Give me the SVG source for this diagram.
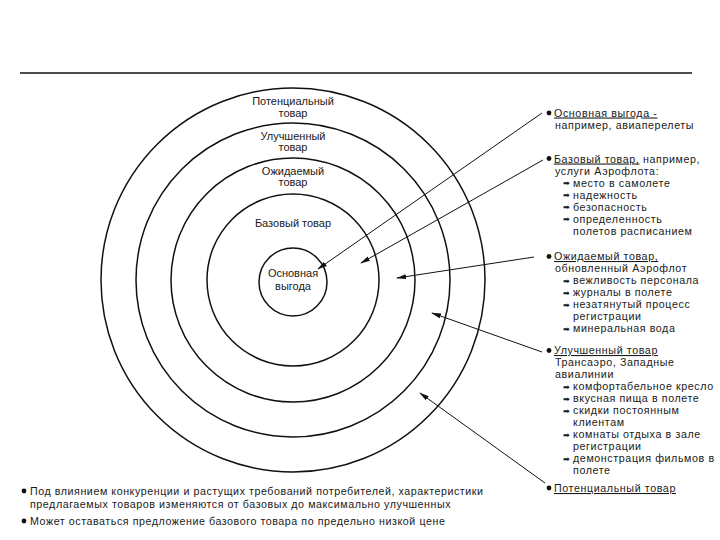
<svg xmlns="http://www.w3.org/2000/svg" width="720" height="540" viewBox="0 0 720 540">
<style>
text{font-family:"Liberation Sans",Arial,sans-serif;font-size:11px;fill:#1a1a1a}
.n{font-size:10.7px;letter-spacing:0.6px}
.b{font-size:10.7px;letter-spacing:0.55px}
.c{text-anchor:middle}
.ring{fill:none;stroke:#111;stroke-width:1.5}
.con{stroke:#111;stroke-width:1;fill:none;marker-end:url(#ah)}
.u{text-decoration:underline}
.ar{font-family:"DejaVu Sans",sans-serif;font-size:8px}
</style>
<defs>
<marker id="ah" viewBox="0 0 10 6" refX="9" refY="3" markerWidth="10" markerHeight="6" markerUnits="userSpaceOnUse" orient="auto">
<path d="M0,0.5 L10,3 L0,5.5 Z" fill="#111"/>
</marker>
</defs>
<rect width="720" height="540" fill="#fff"/>
<line x1="20" y1="73" x2="692" y2="73" stroke="#111" stroke-width="1.5"/>
<g id="ring-potential"><circle class="ring" cx="293" cy="280" r="192"/><text class="c" x="293" y="104.5">Потенциальный</text><text class="c" x="293" y="116.5">товар</text></g>
<g id="ring-improved"><circle class="ring" cx="293" cy="280" r="157"/><text class="c" x="293" y="140">Улучшенный</text><text class="c" x="293" y="151">товар</text></g>
<g id="ring-expected"><circle class="ring" cx="293" cy="280" r="122"/><text class="c" x="293" y="174.5">Ожидаемый</text><text class="c" x="293" y="186">товар</text></g>
<g id="ring-basic"><circle class="ring" cx="293" cy="280" r="86"/><text class="c" x="293" y="227">Базовый товар</text></g>
<g id="ring-core"><circle class="ring" cx="293" cy="282" r="34"/><text class="c" x="293" y="277">Основная</text><text class="c" x="293" y="289.5">выгода</text></g>
<g id="connectors">
<line class="con" x1="542" y1="113" x2="318" y2="269"/>
<line class="con" x1="543" y1="160" x2="361" y2="263"/>
<line class="con" x1="534" y1="257" x2="397" y2="278"/>
<line class="con" x1="542" y1="352" x2="432" y2="313"/>
<line class="con" x1="545" y1="483" x2="420" y2="393"/>
</g>
<g id="note-core"><circle cx="549" cy="113" r="2.4" fill="#111"/><text class="n" x="554" y="116.5"><tspan class="u">Основная выгода -</tspan></text><text class="n" x="555" y="128.5">например, авиаперелеты</text></g>
<g id="note-basic"><circle cx="549" cy="158.5" r="2.4" fill="#111"/><text class="n" x="554" y="162.5"><tspan class="u">Базовый товар,</tspan> например,</text><text class="n" x="555" y="174.5">услуги Аэрофлота:</text>
<text class="ar" x="563" y="186">➡</text><text class="n" x="573" y="186.5">место в самолете</text>
<text class="ar" x="563" y="198">➡</text><text class="n" x="573" y="198.5">надежность</text>
<text class="ar" x="563" y="210">➡</text><text class="n" x="573" y="210.5">безопасность</text>
<text class="ar" x="563" y="222">➡</text><text class="n" x="573" y="222.5">определенность</text>
<text class="n" x="573" y="234.5">полетов расписанием</text></g>
<g id="note-expected"><circle cx="549" cy="256.5" r="2.4" fill="#111"/><text class="n" x="554" y="260">
<tspan class="u">Ожидаемый товар,</tspan></text><text class="n" x="555" y="272">обновленный Аэрофлот</text>
<text class="ar" x="563" y="283.5">➡</text><text class="n" x="573" y="284">вежливость персонала</text>
<text class="ar" x="563" y="295.5">➡</text><text class="n" x="573" y="296">журналы в полете</text>
<text class="ar" x="563" y="307.5">➡</text><text class="n" x="573" y="308">незатянутый процесс</text>
<text class="n" x="573" y="320">регистрации</text>
<text class="ar" x="563" y="331.5">➡</text><text class="n" x="573" y="332">минеральная вода</text></g>
<g id="note-improved"><circle cx="549" cy="350.5" r="2.4" fill="#111"/><text class="n" x="554" y="354"><tspan class="u">Улучшенный товар</tspan></text><text class="n" x="555" y="366">Трансаэро, Западные</text><text class="n" x="555" y="378">авиалинии</text>
<text class="ar" x="563" y="389.5">➡</text><text class="n" x="573" y="390">комфортабельное кресло</text>
<text class="ar" x="563" y="401.5">➡</text><text class="n" x="573" y="402">вкусная пища в полете</text>
<text class="ar" x="563" y="413.5">➡</text><text class="n" x="573" y="414">скидки постоянным</text>
<text class="n" x="573" y="426">клиентам</text>
<text class="ar" x="563" y="437.5">➡</text><text class="n" x="573" y="438">комнаты отдыха в зале</text>
<text class="n" x="573" y="450">регистрации</text>
<text class="ar" x="563" y="461.5">➡</text><text class="n" x="573" y="462">демонстрация фильмов в</text>
<text class="n" x="573" y="474">полете</text></g>
<g id="note-potential"><circle cx="549" cy="488" r="2.4" fill="#111"/><text class="n" x="554" y="492"><tspan class="u">Потенциальный товар</tspan></text></g>
<g id="bottom-notes"><circle cx="24" cy="491" r="2.4" fill="#111"/><text class="b" x="30" y="495">Под влиянием конкуренции и растущих требований потребителей, характеристики</text>
<text class="b" x="30" y="508">предлагаемых товаров изменяются от базовых до максимально улучшенных</text>
<circle cx="24" cy="521" r="2.4" fill="#111"/><text class="b" x="30" y="525">Может оставаться предложение базового товара по предельно низкой цене</text></g>
</svg>
